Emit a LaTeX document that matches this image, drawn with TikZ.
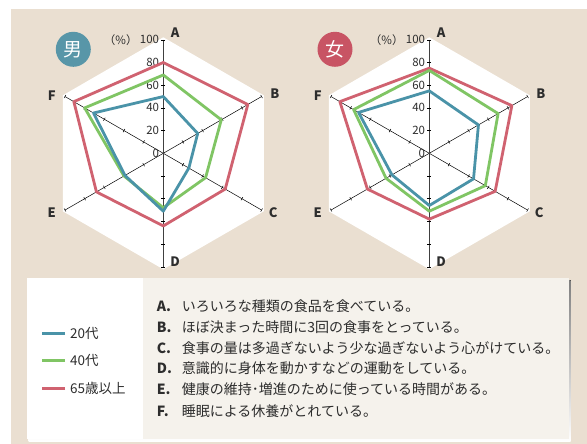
\documentclass[tikz,border=0pt]{standalone}
\usepackage{fontspec}
\setmainfont{Noto Sans CJK JP}
\usetikzlibrary{positioning}

\definecolor{bgbeige}{RGB}{234,223,209}
\definecolor{c20}{RGB}{74,147,168}
\definecolor{c40}{RGB}{128,197,100}
\definecolor{c65}{RGB}{208,98,112}
\definecolor{badgeblue}{RGB}{88,150,168}
\definecolor{badgered}{RGB}{200,84,100}
\definecolor{paper}{RGB}{245,242,236}
\definecolor{shade}{RGB}{138,134,130}
\definecolor{ink}{RGB}{45,45,45}

\tikzset{
  axisline/.style={black, line width=0.5pt},
  axisvert/.style={black!75, line width=0.9pt},
  tickmark/.style={black, line width=0.5pt},
  numlabel/.style={anchor=east, inner sep=0pt, text=ink, font=\fontsize{11.5}{11.5}\selectfont},
  axislabel/.style={inner sep=0pt, text=ink, font=\fontsize{13}{13}\selectfont\bfseries},
  badge/.style={circle, minimum size=35pt, inner sep=0pt, text=white, font=\fontsize{19}{19}\selectfont},
  line20/.style={c20, line width=2.8pt, line join=round},
  line40/.style={c40, line width=2.8pt, line join=round},
  line65/.style={c65, line width=2.8pt, line join=round},
  keytext/.style={anchor=west, inner sep=0pt, text=ink, font=\fontsize{13.5}{13.5}\selectfont},
  itemtext/.style={anchor=west, inner sep=0pt, text=ink, font=\fontsize{14}{14}\selectfont}
}

% radar polygon: style, then values for A..F
\newcommand{\radar}[7]{\draw[#1] (90:#2) -- (30:#3) -- (-30:#4) -- (-90:#5) -- (210:#6) -- (150:#7) -- cycle;}
\newcommand{\itemlab}[1]{\makebox[25pt][l]{\bfseries #1}}

\begin{document}
\begin{tikzpicture}[x=1pt,y=1pt]
  \useasboundingbox (0,0) rectangle (587,-444);
  \fill[white] (0,0) rectangle (587,-444);
  \fill[bgbeige] (11,-9) rectangle (587,-444);

  % men
  \begin{scope}[shift={(163.3,-153.3)}, x=1.135pt, y=1.135pt]
    \fill[white] (90:102.2) -- (30:102.2) -- (-30:102.2) -- (-90:102.2) -- (210:102.2) -- (150:102.2) -- cycle;
    \draw[axisline] (30:100) -- (210:100);
    \draw[axisline] (150:100) -- (-30:100);
    \draw[axisvert] (90:100) -- (-90:100);
    \foreach \a in {90,30,-30,-90,210,150}
      \foreach \r in {20,40,...,100}
        \draw[tickmark, rotate=\a] (\r,-1.6) -- (\r,1.6);
    \foreach \v in {0,20,...,100}
      \node[numlabel] (mv\v) at (-3.5,\v) {\v};
    \node[numlabel, left=2pt of mv100] (mpct) {（\%）};
    \node[axislabel] (mA) at (10.5,106) {A};
    \node[axislabel] (mB) at (98.4,52.2) {B};
    \node[axislabel] (mC) at (96.9,-52.6) {C};
    \node[axislabel] (mD) at (10.5,-95.5) {D};
    \node[axislabel] (mE) at (-98.3,-52.3) {E};
    \node[axislabel] (mF) at (-98.3,50.5) {F};
    \radar{line65}{80}{86}{63}{64}{68}{91}
    \radar{line40}{69}{59}{43}{48}{40}{80}
    \radar{line20}{50}{35}{26}{51}{39}{71}
  \end{scope}
  \node[badge, fill=badgeblue] (mbadge) at (73.3,-49.3) {男};

  % women
  \begin{scope}[shift={(429.3,-153.3)}, x=1.135pt, y=1.135pt]
    \fill[white] (90:102.2) -- (30:102.2) -- (-30:102.2) -- (-90:102.2) -- (210:102.2) -- (150:102.2) -- cycle;
    \draw[axisline] (30:100) -- (210:100);
    \draw[axisline] (150:100) -- (-30:100);
    \draw[axisvert] (90:100) -- (-90:100);
    \foreach \a in {90,30,-30,-90,210,150}
      \foreach \r in {20,40,...,100}
        \draw[tickmark, rotate=\a] (\r,-1.6) -- (\r,1.6);
    \foreach \v in {0,20,...,100}
      \node[numlabel] (wv\v) at (-3.5,\v) {\v};
    \node[numlabel, left=2pt of wv100] (wpct) {（\%）};
    \node[axislabel] (wA) at (10.5,106) {A};
    \node[axislabel] (wB) at (98.4,52.2) {B};
    \node[axislabel] (wC) at (96.9,-52.6) {C};
    \node[axislabel] (wD) at (10.5,-95.5) {D};
    \node[axislabel] (wE) at (-98.3,-52.3) {E};
    \node[axislabel] (wF) at (-98.3,50.5) {F};
    \radar{line65}{75}{84}{67}{58}{63}{91}
    \radar{line40}{73}{70}{57}{51}{44}{77}
    \radar{line20}{55}{50}{45}{46}{38}{72}
  \end{scope}
  \node[badge, fill=badgered] (wbadge) at (335,-49.3) {女};

  % legend box
  \fill[shade] (28.5,-280.1) rectangle (570.5,-441.2);
  \fill[paper] (26.7,-278.3) rectangle (568.7,-439.4);
  \fill[white] (26.7,-278.3) rectangle (143.3,-439.4);

  \node[keytext] (k20) at (70,-333.3) {20代};
  \node[keytext] (k40) at (70,-360.7) {40代};
  \node[keytext] (k65) at (70,-388.3) {65歳以上};
  \draw[c20, line width=2.6pt] ([xshift=-5pt]k20.west) -- ++(-23.3,0);
  \draw[c40, line width=2.6pt] ([xshift=-5pt]k40.west) -- ++(-23.3,0);
  \draw[c65, line width=2.6pt] ([xshift=-5pt]k65.west) -- ++(-23.3,0);

  \node[itemtext] (itA) at (156.7,-305.7) {\itemlab{A.}いろいろな種類の食品を食べている。};
  \node[itemtext] (itB) at (156.7,-326.7) {\itemlab{B.}ほぼ決まった時間に3回の食事をとっている。};
  \node[itemtext] (itC) at (156.7,-347.7) {\itemlab{C.}食事の量は多過ぎないよう少な過ぎないよう心がけている。};
  \node[itemtext] (itD) at (156.7,-368.5) {\itemlab{D.}意識的に身体を動かすなどの運動をしている。};
  \node[itemtext] (itE) at (156.7,-389.5) {\itemlab{E.}健康の維持･増進のために使っている時間がある。};
  \node[itemtext] (itF) at (156.7,-410.8) {\itemlab{F.}睡眠による休養がとれている。};
\end{tikzpicture}
\end{document}
